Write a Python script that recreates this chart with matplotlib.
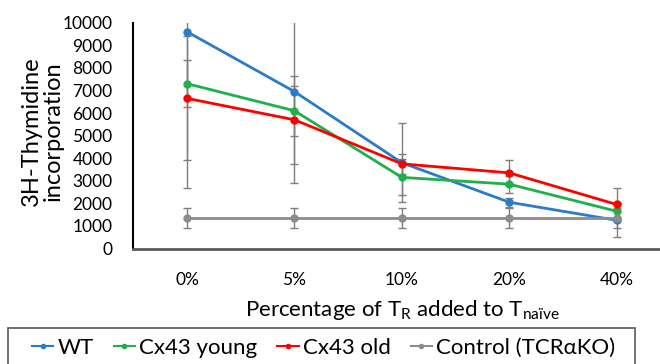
import matplotlib
matplotlib.use("Agg")
from matplotlib import pyplot as plt
from matplotlib.patches import Rectangle
import numpy as np

plt.rcParams['font.family'] = ['Lato', 'DejaVu Sans']

categories = ['0%', '5%', '10%', '20%', '40%']

wt = [9600, 6950, 3800, 2050, 1250]
wt_err = [6900, 4050, 1750, 200, 750]

cx43_young = [7300, 6100, 3150, 2850, 1650]
cx43_young_err = [1050, 1100, 800, 380, 300]

cx43_old = [6650, 5700, 3750, 3350, 1950]
cx43_old_err = [2750, 1950, 450, 550, 750]

control = [1350, 1350, 1350, 1350, 1350]
control_err = [430, 430, 430, 430, 430]

series = [
    ('WT', wt, wt_err, '#2A7BC9'),
    ('Cx43 young', cx43_young, cx43_young_err, '#20B04B'),
    ('Cx43 old', cx43_old, cx43_old_err, '#FF0000'),
    ('Control (TCR\u03b1KO)', control, control_err, '#8C8C8C'),
]

fig = plt.figure(figsize=(6.6, 3.64), dpi=100)
ax = fig.add_axes([133.3 / 660, 1 - 248.5 / 364, 537 / 660, 225.8 / 364])

x = np.arange(len(categories))
handles = []
# error bars first, then lines on top (grey, like the excel default)
for name, vals, err, col in series:
    ax.errorbar(x, vals, yerr=err, fmt='none', ecolor='#7F7F7F',
                elinewidth=1.0, capsize=3, capthick=1.0, zorder=2)
for name, vals, err, col in series:
    h, = ax.plot(x, vals, color=col, lw=2, marker='o', ms=5, label=name, zorder=3)
    handles.append(h)

ax.set_xlim(-0.5, 4.5)
ax.set_ylim(0, 10000)
ax.set_yticks(np.arange(0, 10001, 1000))
ax.set_xticks(x)
ax.set_xticklabels(categories)
ax.tick_params(axis='both', length=0, labelsize=12.5, colors='black')
ax.tick_params(axis='y', pad=15)
ax.tick_params(axis='x', pad=17)

for s in ['top', 'right']:
    ax.spines[s].set_visible(False)
ax.spines['left'].set_color('black')
ax.spines['left'].set_linewidth(1.5)
ax.spines['bottom'].set_color('#595959')
ax.spines['bottom'].set_linewidth(2)

fig.text(42 / 660, 1 - 131 / 364, '3H-Thymidine\nincorporation', rotation=90,
         ha='center', va='center', fontsize=17, linespacing=1.05)
fig.text(402 / 660, 1 - 310 / 364,
         'Percentage of T$_\\mathregular{R}$ added to T$_\\mathregular{na\u00efve}$',
         ha='center', va='center', fontsize=16)

# legend box runs off the bottom edge in the original
fig.patches.append(Rectangle((8 / 660, -0.05), 627 / 660, 0.05 + 1 - 328 / 364,
                             transform=fig.transFigure, fill=False,
                             edgecolor='#595959', lw=1.2))
leg = fig.legend(handles=handles, loc='center left', ncol=4,
                 bbox_to_anchor=(32 / 660, 1 - 348 / 364), fontsize=16,
                 frameon=False, handlelength=0.95, handletextpad=0.2,
                 columnspacing=0.9, borderpad=0, borderaxespad=0,
                 markerscale=0.6)
for lh in leg.get_lines():
    lh.set_linewidth(1.5)

fig.savefig('out.png', dpi=100)
